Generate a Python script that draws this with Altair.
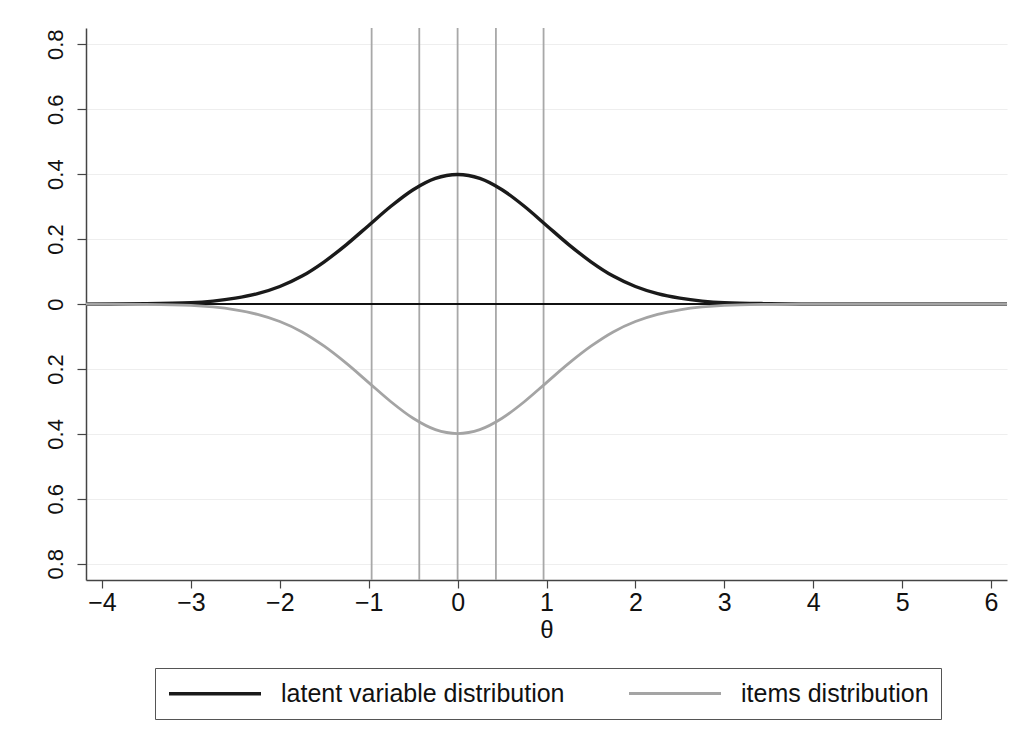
import altair as alt
import pandas as pd

# values
theta = [-4.18, -3.5, -3.0, -2.75, -2.5, -2.25, -2.0, -1.75, -1.5, -1.25, -1.0, -0.75,
         -0.5, -0.25, 0.0, 0.25, 0.5, 0.75, 1.0, 1.25, 1.5, 1.75, 2.0, 2.25, 2.5, 2.75,
         3.0, 3.5, 4.0, 5.0, 6.18]
latent = [0.0, 0.001, 0.004, 0.009, 0.018, 0.032, 0.054, 0.086, 0.130, 0.183, 0.242, 0.301,
          0.352, 0.387, 0.399, 0.387, 0.352, 0.301, 0.242, 0.183, 0.130, 0.086, 0.054, 0.032,
          0.018, 0.009, 0.004, 0.001, 0.0, 0.0, 0.0]
items = [0.0, -0.001, -0.004, -0.009, -0.018, -0.032, -0.054, -0.086, -0.130, -0.183, -0.242, -0.301,
         -0.352, -0.387, -0.399, -0.387, -0.352, -0.301, -0.242, -0.183, -0.130, -0.086, -0.054, -0.032,
         -0.018, -0.009, -0.004, -0.001, 0.0, 0.0, 0.0]
cuts = [-0.967, -0.431, 0.0, 0.431, 0.967]
y_ticks = [-0.8, -0.6, -0.4, -0.2, 0.0, 0.2, 0.4, 0.6, 0.8]
x_ticks = [-4, -3, -2, -1, 0, 1, 2, 3, 4, 5, 6]
series_names = ["latent variable distribution", "items distribution"]
series_colors = ["#1a1a1a", "#a4a4a4"]

FONT = "Liberation Sans"

rows = []
for t, v in zip(theta, latent):
    rows.append({"theta": t, "value": v, "series": series_names[0]})
for t, v in zip(theta, items):
    rows.append({"theta": t, "value": v, "series": series_names[1]})
df = pd.DataFrame(rows)

xscale = alt.Scale(domain=[-4.18, 6.18], nice=False, zero=False)
yscale = alt.Scale(domain=[-0.85, 0.85], nice=False, zero=False)

xaxis = alt.Axis(title="θ", values=x_ticks, grid=False, tickSize=8, tickColor="#444",
                 domainColor="#444", domainWidth=1.5, tickWidth=1.2, labelFontSize=25,
                 labelFont=FONT, labelColor="#111", titleFont=FONT, titleFontSize=24,
                 titleFontWeight="normal", titleColor="#111", labelPadding=2, titlePadding=3,
                 labelExpr="datum.value < 0 ? '−' + format(-datum.value, 'd') : format(datum.value, 'd')")
yaxis = alt.Axis(title=None, values=y_ticks, grid=True, gridColor="#eeeeee", gridWidth=1.2,
                 tickSize=9, tickColor="#444", domainColor="#444", domainWidth=1.5, tickWidth=1.2,
                 labelFontSize=22, labelFont=FONT, labelColor="#111", labelAngle=270,
                 labelPadding=10,
                 labelExpr="datum.value == 0 ? '0' : format(abs(datum.value), '.1f')")

base = alt.Chart(df)

grid_layer = alt.Chart(pd.DataFrame({"y": y_ticks})).mark_rule(opacity=0).encode(
    x=alt.value(0),
    y=alt.Y("y:Q", scale=yscale, axis=yaxis),
)

vlines = alt.Chart(pd.DataFrame({"c": cuts})).mark_rule(color="#a8a8a8", strokeWidth=1.8).encode(
    x=alt.X("c:Q", scale=xscale, axis=xaxis),
)

zero = alt.Chart(pd.DataFrame({"z": [0.0]})).mark_rule(color="#111", strokeWidth=2).encode(
    y=alt.Y("z:Q", scale=yscale),
)

curves = base.mark_line(interpolate="monotone").encode(
    x=alt.X("theta:Q", scale=xscale),
    y=alt.Y("value:Q", scale=yscale),
    color=alt.Color("series:N",
                    scale=alt.Scale(domain=series_names, range=series_colors),
                    legend=alt.Legend(title=None, orient="none", legendX=69, legendY=640,
                                      direction="horizontal", columns=2,
                                      symbolType="M-1,0H7", symbolSize=529,
                                      symbolStrokeWidth=3.2,
                                      labelFontSize=25, labelFont=FONT, labelColor="#111",
                                      labelOffset=87, columnPadding=58, padding=12,
                                      strokeColor="#555", labelLimit=400)),
    strokeWidth=alt.StrokeWidth("series:N",
                                scale=alt.Scale(domain=series_names, range=[3.4, 2.8]),
                                legend=None),
)

chart = alt.layer(grid_layer, vlines, zero, curves).properties(
    width=921, height=552,
    autosize=alt.AutoSizeParams(type="none"),
    padding={"left": 86, "top": 28, "right": 16, "bottom": 162},
    background="white",
).configure_view(stroke=None)

chart.save("out.html", embed_options={"renderer": "svg", "actions": False})
